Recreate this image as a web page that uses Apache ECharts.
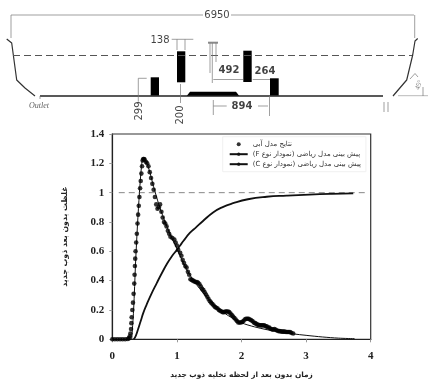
<!DOCTYPE html>
<html>
<head>
<meta charset="utf-8">
<script src="https://cdn.jsdelivr.net/npm/echarts@6/dist/echarts.min.js"></script>
<style>
  html, body { margin: 0; padding: 0; background: #fff; }
  /* the reference is a soft scan */
  #chart { width: 428px; height: 381px; filter: blur(0.45px); }
</style>
</head>
<body>
<div id="chart"></div>
<script>
// values
const xTicks = [0, 1, 2, 3, 4]
const yTicks = [0, 0.2, 0.4, 0.6, 0.8, 1, 1.2, 1.4]

const waterModel = [
  [0,0],[0.04,0],[0.08,0],[0.12,0],[0.16,0],[0.2,0],[0.24,0.002],[0.26,0.008],[0.27,0.02],[0.28,0.04],
  [0.29,0.07],[0.295,0.11],[0.3,0.15],[0.31,0.2],[0.32,0.25],[0.33,0.31],[0.34,0.38],[0.345,0.44],[0.35,0.5],[0.355,0.55],
  [0.36,0.6],[0.37,0.66],[0.38,0.72],[0.39,0.79],[0.4,0.85],[0.41,0.91],[0.42,0.97],[0.43,1.03],[0.44,1.08],[0.45,1.13],
  [0.46,1.18],[0.47,1.22],[0.48,1.23],[0.49,1.23],[0.5,1.225],[0.52,1.21],[0.54,1.2],[0.56,1.18],[0.58,1.14],[0.6,1.1],
  [0.62,1.06],[0.64,1.02],[0.66,0.97],[0.68,0.92],[0.7,0.89],[0.72,0.9],[0.74,0.92],[0.76,0.87],[0.78,0.83],[0.8,0.8],
  [0.82,0.79],[0.84,0.77],[0.86,0.74],[0.88,0.72],[0.9,0.7],[0.93,0.69],[0.96,0.68],[0.98,0.66],[1,0.64],[1.02,0.61],
  [1.05,0.59],[1.07,0.57],[1.09,0.54],[1.11,0.52],[1.13,0.5],[1.15,0.49],[1.17,0.46],[1.19,0.44],[1.21,0.41],[1.23,0.405],
  [1.25,0.4],[1.27,0.395],[1.29,0.39],[1.31,0.39],[1.33,0.385],[1.35,0.375],[1.37,0.36],[1.39,0.345],[1.41,0.335],[1.43,0.32],
  [1.45,0.305],[1.47,0.29],[1.49,0.275],[1.51,0.26],[1.53,0.25],[1.55,0.24],[1.57,0.23],[1.59,0.22],[1.61,0.215],[1.63,0.21],
  [1.65,0.2],[1.67,0.195],[1.69,0.19],[1.71,0.185],[1.73,0.185],[1.75,0.19],[1.77,0.19],[1.79,0.19],[1.81,0.185],[1.83,0.175],
  [1.85,0.165],[1.87,0.155],[1.89,0.145],[1.91,0.135],[1.93,0.125],[1.95,0.115],[1.97,0.115],[1.99,0.115],[2.01,0.118],[2.03,0.125],
  [2.05,0.135],[2.07,0.14],[2.09,0.14],[2.11,0.14],[2.13,0.135],[2.15,0.13],[2.17,0.125],[2.19,0.115],[2.21,0.11],[2.23,0.105],
  [2.25,0.1],[2.27,0.097],[2.29,0.095],[2.31,0.095],[2.33,0.095],[2.35,0.095],[2.37,0.09],[2.39,0.088],[2.41,0.08],[2.43,0.08],
  [2.45,0.072],[2.47,0.068],[2.49,0.066],[2.51,0.07],[2.53,0.065],[2.55,0.06],[2.57,0.056],[2.59,0.056],[2.61,0.054],[2.63,0.052],
  [2.65,0.052],[2.67,0.052],[2.69,0.05],[2.71,0.05],[2.73,0.05],[2.75,0.05],[2.77,0.044],[2.8,0.04]
]

const curveF = [
  [0.33,0],[0.36,0.02],[0.4,0.07],[0.44,0.125],[0.48,0.18],[0.53,0.235],[0.6,0.305],[0.69,0.385],[0.76,0.445],[0.84,0.51],
  [0.92,0.565],[1,0.61],[1.05,0.64],[1.1,0.67],[1.2,0.725],[1.3,0.765],[1.4,0.805],[1.56,0.865],[1.7,0.9],[1.87,0.928],
  [2.1,0.955],[2.39,0.972],[2.7,0.98],[3.05,0.987],[3.4,0.992],[3.73,0.995]
]

const curveC = [
  [0.3,0],[0.33,0.2],[0.36,0.52],[0.39,0.78],[0.42,1],[0.45,1.17],[0.47,1.22],[0.5,1.22],[0.56,1.17],[0.64,1.04],
  [0.72,0.92],[0.8,0.82],[0.9,0.71],[1,0.62],[1.1,0.52],[1.2,0.44],[1.3,0.375],[1.4,0.32],[1.5,0.27],[1.6,0.225],
  [1.7,0.19],[1.8,0.16],[1.9,0.135],[2,0.112],[2.2,0.085],[2.4,0.065],[2.6,0.05],[2.8,0.037],[3,0.027],[3.25,0.016],
  [3.5,0.008],[3.75,0.004]
]

const unityLine = [[0.1,1],[3.95,1]]

// embedded rtl so the brackets land on the correct side
const nameWater = '\u202Bنتایج مدل آبی\u202C'
const nameF = '\u202Bپیش بینی مدل ریاضی (نمودار نوع F)\u202C'
const nameC = '\u202Bپیش بینی مدل ریاضی (نمودار نوع C)\u202C'
const titleX = 'زمان بدون بعد از لحظه تخلیه ذوب جدید'
const titleY = 'غلظت بدون بعد ذوب جدید'

// tundish sketch, in the sketch axis units
const hullLeft = [[6.7,39],[11.7,43],[16.7,80],[25,88],[35,96]]
const hullRight = [[393,96],[406.7,80],[412.7,55],[415,41],[417.7,38.5]]
const floorLeft = [[40,96],[383,96]]
const liquidLevel = [[13,55.5],[412,55.5]]
const baffles = [[150.7,77.3,159,95.7],[177,51.3,185.3,82.3],[243.3,50.7,251.7,82],[270,78.3,278.7,95.7]]
const padShape = [[186.7,96],[190,91.7],[236,91.7],[239.3,96]]
const thinLines = [
  [[11,15],[203,15]],[[231,15],[414,15]],[[11,15],[11,38]],[[414.7,15],[414.7,38]],
  [[171.7,39.3],[193.3,39.3]],[[177,39.3],[177,50]],[[185,39.3],[185,50]],
  [[210,43],[210,73]],[[212.3,43],[212.3,83]],[[216,43],[216,62]],
  [[213.3,79.5],[243,79.5]],[[252.7,79.5],[270,79.5]],[[213.3,100],[213.3,115]],[[269.5,96],[269.5,116]],
  [[213.3,106],[226.7,106]],[[258,106],[268,106]],
  [[138.3,78.3],[138.3,101.7]],[[138.3,78.3],[146.7,78.3]],[[180.5,84],[180.5,103]],
  [[384,102],[384,112]],[[388,102],[388,112]],[[40,96],[40,99]],
  [[410,79],[415,73.5],[418,77]],[[423,87],[423,96]]
]
const tBar = [[208,42.7],[218,42.7]]
const floorRight = [[398,95.7],[428,95.7]]
const sketchLabels = [
  { text: '6950', at: [217,15] },
  { text: '138', at: [160,40] },
  { text: '492', at: [229,70], bold: true },
  { text: '264', at: [265,71], bold: true },
  { text: '894', at: [242,106], bold: true },
  { text: '299', at: [139,111], rotate: 90 },
  { text: '200', at: [180.5,115], rotate: 90 }
]

const lineSeries = (name, data, width, color, extra) => ({
  name, type: 'line', data, showSymbol: false, symbol: 'none', silent: true, animation: false,
  lineStyle: { width, color }, itemStyle: { color }, ...extra
})
const sketchLine = (data, width, color, extra) => lineSeries(undefined, data, width, color, { xAxisIndex: 1, yAxisIndex: 1, ...extra })

const chart = echarts.init(document.getElementById('chart'))

const option = {
  animation: false,
  backgroundColor: '#fff',
  textStyle: { fontFamily: '"Liberation Serif", serif' },
  legend: {
    orient: 'vertical',
    left: 222.7,
    top: 136.7,
    itemWidth: 18,
    itemHeight: 4,
    itemGap: 3,
    padding: [4, 5, 4, 6],
    borderColor: '#f0f0f0',
    borderWidth: 1,
    textStyle: { fontSize: 7, color: '#333', fontFamily: '"DejaVu Sans"', width: 106 },
    data: [{ name: nameWater, icon: 'circle' }, { name: nameF }, { name: nameC }],
    z: 5
  },
  grid: [
    { left: 112.3, right: 57.3, top: 134, height: 205.3, outerBoundsMode: 'none', show: true, borderColor: '#333', borderWidth: 1.2, backgroundColor: 'transparent' },
    { left: 0, right: 0, top: 0, height: 125, outerBoundsMode: 'none', show: false }
  ],
  xAxis: [
    {
      type: 'value', min: 0, max: 4, interval: 1,
      name: titleX, nameLocation: 'middle', nameGap: 32,
      nameTextStyle: { fontSize: 7.4, fontWeight: 'bold', color: '#222', fontFamily: '"DejaVu Sans"' },
      axisLine: { show: true, onZero: false, lineStyle: { color: '#222', width: 1.2 } },
      axisTick: { show: true, length: 3, lineStyle: { color: '#999' } },
      axisLabel: { fontSize: 11, fontWeight: 'bold', color: '#222', margin: 11, formatter: v => String(xTicks[v]) },
      splitLine: { show: false }
    },
    { type: 'value', gridIndex: 1, min: 0, max: 428, show: false }
  ],
  yAxis: [
    {
      type: 'value', min: 0, max: 1.4, interval: 0.2,
      name: titleY, nameLocation: 'middle', nameGap: 43, nameRotate: 90,
      nameTextStyle: { fontSize: 7.8, fontWeight: 'bold', color: '#222', fontFamily: '"DejaVu Sans"' },
      axisLine: { show: true, onZero: false, lineStyle: { color: '#222', width: 1.2 } },
      axisTick: { show: true, length: 3, lineStyle: { color: '#999' } },
      axisLabel: { fontSize: 11, fontWeight: 'bold', color: '#222', margin: 8, formatter: v => String(yTicks[Math.round(v / 0.2)]) },
      splitLine: { show: false }
    },
    { type: 'value', gridIndex: 1, min: 0, max: 125, inverse: true, show: false }
  ],
  series: [
    lineSeries('unity', unityLine, 1, '#888', { lineStyle: { width: 1, color: '#888', type: [6, 4] } }),
    lineSeries(nameF, curveF, 1.8, '#111', { smooth: true }),
    lineSeries(nameC, curveC, 1, '#111', { smooth: 0.3 }),
    {
      name: nameWater, type: 'scatter', data: waterModel, symbolSize: 4.6,
      itemStyle: { color: '#000' }, silent: true, animation: false, z: 3
    },
    sketchLine(hullLeft, 1.2, '#333'),
    sketchLine(hullRight, 1.2, '#333'),
    sketchLine(floorLeft, 1.6, '#222'),
    sketchLine(floorRight, 1, '#bbb'),
    sketchLine(tBar, 2, '#888'),
    sketchLine(liquidLevel, 1, '#555', { lineStyle: { width: 1, color: '#555', type: [7, 4] } }),
    ...thinLines.map(l => sketchLine(l, 0.7, '#777')),
    {
      type: 'custom', xAxisIndex: 1, yAxisIndex: 1, data: baffles, silent: true, animation: false,
      renderItem: (params, api) => {
        const a = api.coord([api.value(0), api.value(1)])
        const b = api.coord([api.value(2), api.value(3)])
        return { type: 'rect', shape: { x: a[0], y: a[1], width: b[0] - a[0], height: b[1] - a[1] }, style: { fill: '#000' } }
      },
      encode: { x: [0, 2], y: [1, 3] }
    },
    {
      type: 'custom', xAxisIndex: 1, yAxisIndex: 1, data: [0], silent: true, animation: false,
      renderItem: (params, api) => ({
        type: 'polygon', shape: { points: padShape.map(p => api.coord(p)) }, style: { fill: '#000' }
      })
    },
    {
      type: 'scatter', xAxisIndex: 1, yAxisIndex: 1, symbolSize: 0, silent: true, animation: false,
      data: sketchLabels.map(l => ({
        value: l.at,
        label: {
          show: true, position: 'inside', formatter: l.text, rotate: l.rotate || 0,
          fontSize: 10, color: '#111', fontFamily: '"DejaVu Sans"', fontWeight: l.bold ? 'bold' : 'normal'
        }
      }))
    },
    {
      type: 'scatter', xAxisIndex: 1, yAxisIndex: 1, symbolSize: 0, silent: true, animation: false,
      data: [
        { value: [39,105.5], label: { show: true, position: 'inside', formatter: 'Outlet', fontSize: 8, fontStyle: 'italic', color: '#333', fontFamily: '"Liberation Serif"' } },
        { value: [419,85], label: { show: true, position: 'inside', formatter: '45°', rotate: 70, fontSize: 7, color: '#555', fontFamily: '"Liberation Serif"' } }
      ]
    }
  ]
}

chart.setOption(option)
</script>
</body>
</html>
